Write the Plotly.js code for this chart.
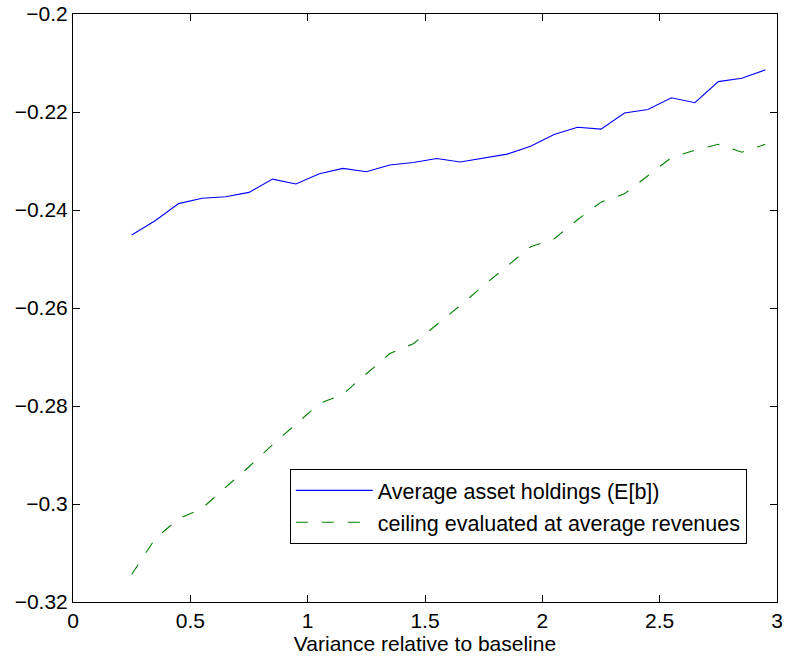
<!DOCTYPE html>
<html>
<head>
<meta charset="utf-8">
<script src="https://cdn.plot.ly/plotly-3.0.1.min.js"></script>
<style>
  html, body { margin: 0; padding: 0; background: #fff; }
  #chart { width: 785px; height: 659px; }
</style>
</head>
<body>
<div id="chart"></div>
<script>
// Variance multiplier (relative to the baseline case)
const variance = [0.25, 0.35, 0.45, 0.55, 0.65, 0.75, 0.85, 0.95, 1.05, 1.15,
                  1.25, 1.35, 1.45, 1.55, 1.65, 1.75, 1.85, 1.95, 2.05, 2.15,
                  2.25, 2.35, 2.45, 2.55, 2.65, 2.75, 2.85, 2.95];

// Average asset holdings E[b]
const avgAssets = [-0.2451, -0.2422, -0.2387, -0.2376, -0.2373, -0.2364, -0.2337, -0.2347,
                   -0.2326, -0.2315, -0.2322, -0.2308, -0.2303, -0.2295, -0.2302, -0.2294,
                   -0.2286, -0.2270, -0.2246, -0.2231, -0.2235, -0.2202, -0.2195, -0.2171,
                   -0.2181, -0.2138, -0.2131, -0.2114];

// Debt ceiling evaluated at average revenues
const ceilingAvg = [-0.3144, -0.3071, -0.3030, -0.3009, -0.2966, -0.2924, -0.2879, -0.2836,
                    -0.2795, -0.2776, -0.2735, -0.2693, -0.2673, -0.2634, -0.2595, -0.2554,
                    -0.2515, -0.2475, -0.2459, -0.2420, -0.2384, -0.2367, -0.2330, -0.2293,
                    -0.2278, -0.2266, -0.2282, -0.2266];

const seriesNames = ['Average asset holdings (E[b])', 'ceiling evaluated at average revenues'];

const xTicks = [0, 0.5, 1, 1.5, 2, 2.5, 3];
const xTickText = ['0', '0.5', '1', '1.5', '2', '2.5', '3'];
const yTicks = [-0.32, -0.30, -0.28, -0.26, -0.24, -0.22, -0.20];
const yTickText = ['\u22120.32', '\u22120.3', '\u22120.28', '\u22120.26', '\u22120.24', '\u22120.22', '\u22120.2'];

const FONT = '"Liberation Sans", Arial, Helvetica, sans-serif';

const traces = [
  {
    x: variance, y: avgAssets, name: seriesNames[0], legendgroup: 'assets',
    type: 'scatter', mode: 'lines',
    line: { color: '#0000ff', width: 1.1 }
  },
  {
    x: variance, y: ceilingAvg, name: seriesNames[1], legendgroup: 'ceiling',
    type: 'scatter', mode: 'lines',
    line: { color: '#008000', width: 1.1, dash: '12px,14px' }
  }
];

const axisCommon = {
  showline: true, linecolor: '#000', linewidth: 1,
  mirror: 'ticks', ticks: 'inside', ticklen: 7, tickwidth: 1, tickcolor: '#000',
  showgrid: false, zeroline: false,
  tickfont: { family: FONT, size: 21, color: '#000' }
};

const layout = {
  width: 785, height: 659,
  margin: { l: 73, r: 8, t: 14, b: 57 },
  paper_bgcolor: '#fff', plot_bgcolor: '#fff',
  font: { family: FONT, size: 21, color: '#000' },
  xaxis: Object.assign({}, axisCommon, {
    range: [0, 3], tickmode: 'array', tickvals: xTicks, ticktext: xTickText,
    title: { text: 'Variance relative to baseline', font: { family: FONT, size: 21, color: '#000' }, standoff: 1 }
  }),
  yaxis: Object.assign({}, axisCommon, {
    range: [-0.32, -0.2], tickmode: 'array', tickvals: yTicks, ticktext: yTickText
  }),
  showlegend: true,
  legend: {
    x: 0.308, y: 0.2264, xanchor: 'left', yanchor: 'top',
    bgcolor: '#fff', bordercolor: '#000', borderwidth: 1,
    font: { family: FONT, size: 21.5, color: '#000' },
    itemwidth: 77, tracegroupgap: 1
  }
};

Plotly.newPlot('chart', traces, layout, { displayModeBar: false, staticPlot: true });
</script>
</body>
</html>
